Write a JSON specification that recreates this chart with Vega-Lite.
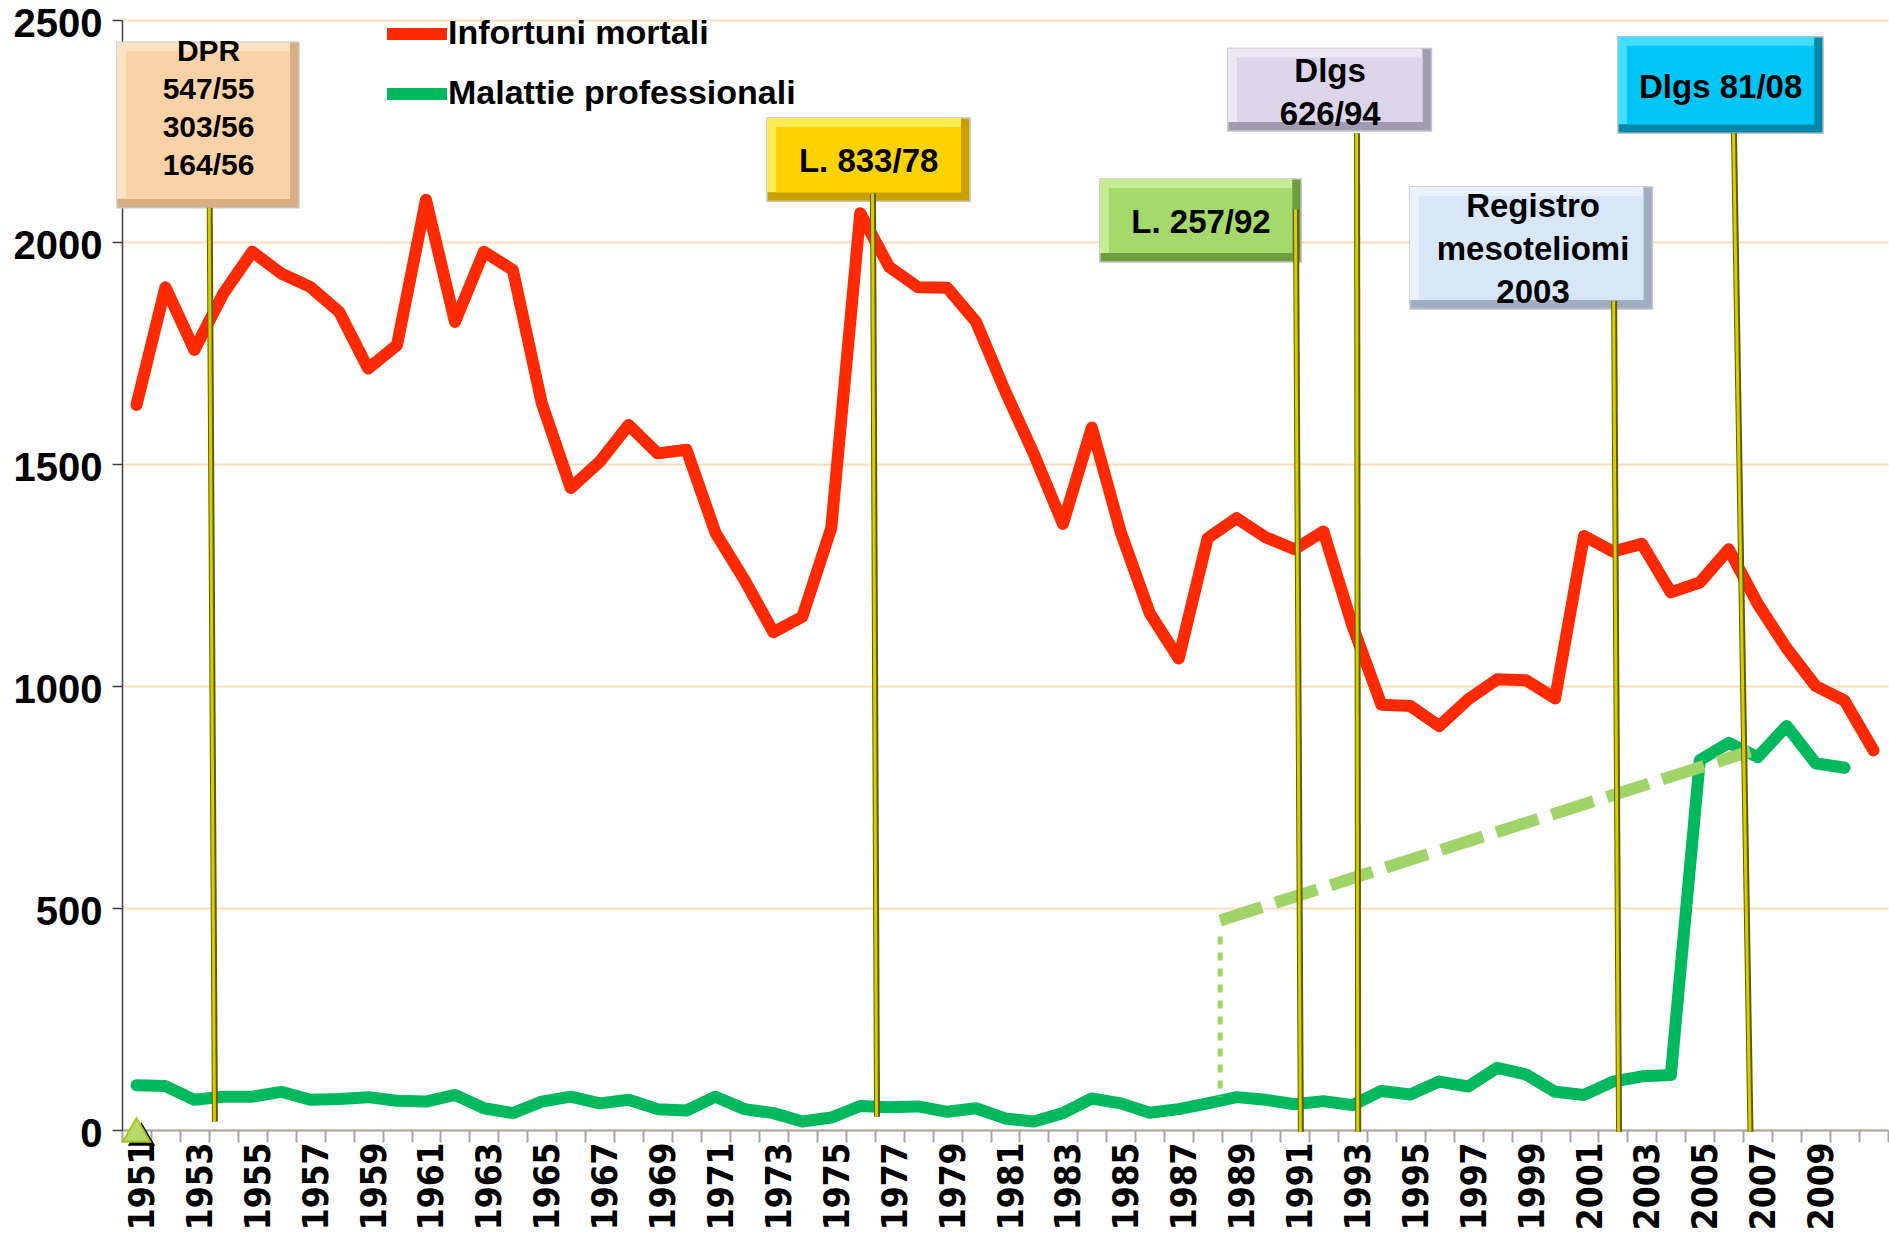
{
  "$schema": "https://vega.github.io/schema/vega-lite/v6.json",
  "width": 1766,
  "height": 1110,
  "autosize": {"type": "none"},
  "padding": {"left": 122, "top": 20, "right": 1, "bottom": 105},
  "background": "white",
  "config": {"view": {"stroke": null}, "font": "Liberation Sans"},
  "datasets": {
    "series": [
      {"year": 1951, "series": "Infortuni mortali", "value": 1633},
      {"year": 1952, "series": "Infortuni mortali", "value": 1898},
      {"year": 1953, "series": "Infortuni mortali", "value": 1757},
      {"year": 1954, "series": "Infortuni mortali", "value": 1884},
      {"year": 1955, "series": "Infortuni mortali", "value": 1978},
      {"year": 1956, "series": "Infortuni mortali", "value": 1929},
      {"year": 1957, "series": "Infortuni mortali", "value": 1899},
      {"year": 1958, "series": "Infortuni mortali", "value": 1843},
      {"year": 1959, "series": "Infortuni mortali", "value": 1715},
      {"year": 1960, "series": "Infortuni mortali", "value": 1768},
      {"year": 1961, "series": "Infortuni mortali", "value": 2095},
      {"year": 1962, "series": "Infortuni mortali", "value": 1820},
      {"year": 1963, "series": "Infortuni mortali", "value": 1978},
      {"year": 1964, "series": "Infortuni mortali", "value": 1937},
      {"year": 1965, "series": "Infortuni mortali", "value": 1637},
      {"year": 1966, "series": "Infortuni mortali", "value": 1446},
      {"year": 1967, "series": "Infortuni mortali", "value": 1505},
      {"year": 1968, "series": "Infortuni mortali", "value": 1588},
      {"year": 1969, "series": "Infortuni mortali", "value": 1524},
      {"year": 1970, "series": "Infortuni mortali", "value": 1532},
      {"year": 1971, "series": "Infortuni mortali", "value": 1345},
      {"year": 1972, "series": "Infortuni mortali", "value": 1239},
      {"year": 1973, "series": "Infortuni mortali", "value": 1121},
      {"year": 1974, "series": "Infortuni mortali", "value": 1156},
      {"year": 1975, "series": "Infortuni mortali", "value": 1356},
      {"year": 1976, "series": "Infortuni mortali", "value": 2065},
      {"year": 1977, "series": "Infortuni mortali", "value": 1944},
      {"year": 1978, "series": "Infortuni mortali", "value": 1898},
      {"year": 1979, "series": "Infortuni mortali", "value": 1897},
      {"year": 1980, "series": "Infortuni mortali", "value": 1820},
      {"year": 1981, "series": "Infortuni mortali", "value": 1665},
      {"year": 1982, "series": "Infortuni mortali", "value": 1522},
      {"year": 1983, "series": "Infortuni mortali", "value": 1365},
      {"year": 1984, "series": "Infortuni mortali", "value": 1582},
      {"year": 1985, "series": "Infortuni mortali", "value": 1346},
      {"year": 1986, "series": "Infortuni mortali", "value": 1164},
      {"year": 1987, "series": "Infortuni mortali", "value": 1062},
      {"year": 1988, "series": "Infortuni mortali", "value": 1333},
      {"year": 1989, "series": "Infortuni mortali", "value": 1378},
      {"year": 1990, "series": "Infortuni mortali", "value": 1335},
      {"year": 1991, "series": "Infortuni mortali", "value": 1308},
      {"year": 1992, "series": "Infortuni mortali", "value": 1348},
      {"year": 1993, "series": "Infortuni mortali", "value": 1136},
      {"year": 1994, "series": "Infortuni mortali", "value": 958},
      {"year": 1995, "series": "Infortuni mortali", "value": 955},
      {"year": 1996, "series": "Infortuni mortali", "value": 910},
      {"year": 1997, "series": "Infortuni mortali", "value": 970},
      {"year": 1998, "series": "Infortuni mortali", "value": 1015},
      {"year": 1999, "series": "Infortuni mortali", "value": 1013},
      {"year": 2000, "series": "Infortuni mortali", "value": 972},
      {"year": 2001, "series": "Infortuni mortali", "value": 1338},
      {"year": 2002, "series": "Infortuni mortali", "value": 1303},
      {"year": 2003, "series": "Infortuni mortali", "value": 1320},
      {"year": 2004, "series": "Infortuni mortali", "value": 1211},
      {"year": 2005, "series": "Infortuni mortali", "value": 1233},
      {"year": 2006, "series": "Infortuni mortali", "value": 1308},
      {"year": 2007, "series": "Infortuni mortali", "value": 1185},
      {"year": 2008, "series": "Infortuni mortali", "value": 1085},
      {"year": 2009, "series": "Infortuni mortali", "value": 1000},
      {"year": 2010, "series": "Infortuni mortali", "value": 967},
      {"year": 2011, "series": "Infortuni mortali", "value": 855},
      {"year": 1951, "series": "Malattie professionali", "value": 101},
      {"year": 1952, "series": "Malattie professionali", "value": 99},
      {"year": 1953, "series": "Malattie professionali", "value": 68},
      {"year": 1954, "series": "Malattie professionali", "value": 75},
      {"year": 1955, "series": "Malattie professionali", "value": 75},
      {"year": 1956, "series": "Malattie professionali", "value": 86},
      {"year": 1957, "series": "Malattie professionali", "value": 68},
      {"year": 1958, "series": "Malattie professionali", "value": 70},
      {"year": 1959, "series": "Malattie professionali", "value": 74},
      {"year": 1960, "series": "Malattie professionali", "value": 66},
      {"year": 1961, "series": "Malattie professionali", "value": 64},
      {"year": 1962, "series": "Malattie professionali", "value": 79},
      {"year": 1963, "series": "Malattie professionali", "value": 49},
      {"year": 1964, "series": "Malattie professionali", "value": 38},
      {"year": 1965, "series": "Malattie professionali", "value": 64},
      {"year": 1966, "series": "Malattie professionali", "value": 75},
      {"year": 1967, "series": "Malattie professionali", "value": 60},
      {"year": 1968, "series": "Malattie professionali", "value": 68},
      {"year": 1969, "series": "Malattie professionali", "value": 47},
      {"year": 1970, "series": "Malattie professionali", "value": 44},
      {"year": 1971, "series": "Malattie professionali", "value": 75},
      {"year": 1972, "series": "Malattie professionali", "value": 47},
      {"year": 1973, "series": "Malattie professionali", "value": 38},
      {"year": 1974, "series": "Malattie professionali", "value": 19},
      {"year": 1975, "series": "Malattie professionali", "value": 28},
      {"year": 1976, "series": "Malattie professionali", "value": 54},
      {"year": 1977, "series": "Malattie professionali", "value": 51},
      {"year": 1978, "series": "Malattie professionali", "value": 53},
      {"year": 1979, "series": "Malattie professionali", "value": 41},
      {"year": 1980, "series": "Malattie professionali", "value": 49},
      {"year": 1981, "series": "Malattie professionali", "value": 26},
      {"year": 1982, "series": "Malattie professionali", "value": 19},
      {"year": 1983, "series": "Malattie professionali", "value": 38},
      {"year": 1984, "series": "Malattie professionali", "value": 71},
      {"year": 1985, "series": "Malattie professionali", "value": 60},
      {"year": 1986, "series": "Malattie professionali", "value": 39},
      {"year": 1987, "series": "Malattie professionali", "value": 47},
      {"year": 1988, "series": "Malattie professionali", "value": 60},
      {"year": 1989, "series": "Malattie professionali", "value": 74},
      {"year": 1990, "series": "Malattie professionali", "value": 68},
      {"year": 1991, "series": "Malattie professionali", "value": 58},
      {"year": 1992, "series": "Malattie professionali", "value": 65},
      {"year": 1993, "series": "Malattie professionali", "value": 56},
      {"year": 1994, "series": "Malattie professionali", "value": 88},
      {"year": 1995, "series": "Malattie professionali", "value": 80},
      {"year": 1996, "series": "Malattie professionali", "value": 109},
      {"year": 1997, "series": "Malattie professionali", "value": 98},
      {"year": 1998, "series": "Malattie professionali", "value": 140},
      {"year": 1999, "series": "Malattie professionali", "value": 125},
      {"year": 2000, "series": "Malattie professionali", "value": 86},
      {"year": 2001, "series": "Malattie professionali", "value": 79},
      {"year": 2002, "series": "Malattie professionali", "value": 109},
      {"year": 2003, "series": "Malattie professionali", "value": 121},
      {"year": 2004, "series": "Malattie professionali", "value": 124},
      {"year": 2005, "series": "Malattie professionali", "value": 833},
      {"year": 2006, "series": "Malattie professionali", "value": 872},
      {"year": 2007, "series": "Malattie professionali", "value": 840},
      {"year": 2008, "series": "Malattie professionali", "value": 910},
      {"year": 2009, "series": "Malattie professionali", "value": 826},
      {"year": 2010, "series": "Malattie professionali", "value": 816}
    ],
    "notes": [
      {"id": "dpr", "text": "DPR\n547/55\n303/56\n164/56", "x1": 1950.33, "x2": 1956.61, "yt": 2450, "yb": 2077, "tx": 1953.49, "ty": 2428, "rx1": 1953.53, "ry1": 2077, "rx2": 1953.71, "ry2": 19},
      {"id": "l833", "text": "L. 833/78", "x1": 1972.78, "x2": 1979.79, "yt": 2279, "yb": 2092, "tx": 1976.29, "ty": 2180, "rx1": 1976.44, "ry1": 2110, "rx2": 1976.58, "ry2": 30},
      {"id": "l257", "text": "L. 257/92", "x1": 1984.28, "x2": 1991.23, "yt": 2142, "yb": 1955, "tx": 1987.77, "ty": 2043, "rx1": 1991.05, "ry1": 2074, "rx2": 1991.22, "ry2": -4},
      {"id": "d626", "text": "Dlgs\n626/94", "x1": 1988.7, "x2": 1995.73, "yt": 2436, "yb": 2250, "tx": 1992.23, "ty": 2383, "rx1": 1993.16, "ry1": 2245, "rx2": 1993.2, "ry2": -4},
      {"id": "reg", "text": "Registro\nmesoteliomi\n2003", "x1": 1994.99, "x2": 2003.36, "yt": 2124, "yb": 1849, "tx": 1999.24, "ty": 2079, "rx1": 2002.04, "ry1": 1867, "rx2": 2002.21, "ry2": -4},
      {"id": "d81", "text": "Dlgs 81/08", "x1": 2002.17, "x2": 2009.26, "yt": 2462, "yb": 2245, "tx": 2005.72, "ty": 2347, "rx1": 2006.18, "ry1": 2245, "rx2": 2006.75, "ry2": -4}
    ],
    "trend": [{"x1": 1988.43, "y1": 472, "x2": 2006.74, "y2": 853}],
    "drop": [{"x1": 1988.43, "y1": 436, "x2": 1988.43, "y2": 74}],
    "origin": [{"year": 1951, "value": 0}]
  },
  "layer": [
    {
      "data": {"name": "series"},
      "mark": {"type": "line", "strokeWidth": 12, "strokeCap": "round", "strokeJoin": "round"},
      "encoding": {
        "x": {
          "field": "year", "type": "quantitative",
          "scale": {"domain": [1950.5, 2011.5], "nice": false, "zero": false},
          "axis": {
            "title": null, "orient": "bottom",
            "values": [1951, 1953, 1955, 1957, 1959, 1961, 1963, 1965, 1967, 1969, 1971, 1973, 1975, 1977, 1979, 1981, 1983, 1985, 1987, 1989, 1991, 1993, 1995, 1997, 1999, 2001, 2003, 2005, 2007, 2009],
            "format": "d", "labelAngle": 270, "labelFont": "DejaVu Sans Condensed", "labelFontWeight": "bold", "labelFontSize": 35,
            "labelColor": "#000000", "labelPadding": 12, "labelOffset": 6, "ticks": false, "grid": false,
            "domain": true, "domainColor": "#A6A6A6", "domainWidth": 2,
            "labelFlush": false, "labelOverlap": false, "labelBound": false
          }
        },
        "y": {
          "field": "value", "type": "quantitative",
          "scale": {"domain": [0, 2500], "nice": false, "zero": false},
          "axis": {
            "title": null, "values": [0, 500, 1000, 1500, 2000, 2500], "format": "d",
            "labelFont": "Liberation Sans", "labelFontWeight": "bold", "labelFontSize": 40, "labelColor": "#000000",
            "labelPadding": 10, "labelOffset": 4, "tickSize": 10, "tickColor": "#404040", "tickWidth": 1.5,
            "domainColor": "#404040", "domainWidth": 1.5,
            "grid": true, "gridColor": "#FFDDB8", "gridWidth": 2
          }
        },
        "color": {
          "field": "series", "type": "nominal",
          "scale": {"domain": ["Infortuni mortali", "Malattie professionali"], "range": ["#FF2A00", "#00B85E"]},
          "legend": {
            "title": null, "orient": "none", "legendX": 259, "legendY": -22, "direction": "vertical",
            "symbolType": "stroke", "symbolStrokeWidth": 12, "symbolSize": 3600,
            "labelFont": "Liberation Sans", "labelFontWeight": "bold", "labelFontSize": 34, "labelColor": "#000000",
            "labelOffset": -5, "rowPadding": 0, "padding": 0, "labelLimit": 600
          }
        }
      }
    },
    {
      "data": {"name": "trend"},
      "mark": {"type": "rule", "color": "#A0D468", "strokeWidth": 12, "strokeDash": [44, 14]},
      "encoding": {
        "x": {
          "field": "x1", "type": "quantitative",
          "scale": {"domain": [1950.5, 2011.5], "nice": false, "zero": false},
          "axis": {
            "title": null, "orient": "bottom",
            "values": [1950.5, 1951.5, 1952.5, 1953.5, 1954.5, 1955.5, 1956.5, 1957.5, 1958.5, 1959.5, 1960.5, 1961.5, 1962.5, 1963.5, 1964.5, 1965.5, 1966.5, 1967.5, 1968.5, 1969.5, 1970.5, 1971.5, 1972.5, 1973.5, 1974.5, 1975.5, 1976.5, 1977.5, 1978.5, 1979.5, 1980.5, 1981.5, 1982.5, 1983.5, 1984.5, 1985.5, 1986.5, 1987.5, 1988.5, 1989.5, 1990.5, 1991.5, 1992.5, 1993.5, 1994.5, 1995.5, 1996.5, 1997.5, 1998.5, 1999.5, 2000.5, 2001.5, 2002.5, 2003.5, 2004.5, 2005.5, 2006.5, 2007.5, 2008.5, 2009.5, 2010.5, 2011.5],
            "labels": false, "ticks": true, "tickSize": 12, "tickColor": "#A6A6A6", "tickWidth": 2,
            "domain": false, "grid": false
          }
        },
        "y": {"field": "y1", "type": "quantitative", "scale": {"domain": [0, 2500], "nice": false, "zero": false}, "axis": null},
        "x2": {"field": "x2"},
        "y2": {"field": "y2"}
      }
    },
    {
      "data": {"name": "drop"},
      "mark": {"type": "rule", "color": "#A0D468", "strokeWidth": 5, "strokeDash": [8, 8]},
      "encoding": {
        "x": {"field": "x1", "type": "quantitative", "scale": {"domain": [1950.5, 2011.5], "nice": false, "zero": false}, "axis": null},
        "y": {"field": "y1", "type": "quantitative", "scale": {"domain": [0, 2500], "nice": false, "zero": false}, "axis": null},
        "x2": {"field": "x2"},
        "y2": {"field": "y2"}
      }
    },
    {
      "data": {"name": "notes"},
      "mark": {"type": "rect", "stroke": "#C4C4C4", "strokeWidth": 1.5},
      "encoding": {
        "x": {"field": "x1", "type": "quantitative", "scale": {"domain": [1950.5, 2011.5], "nice": false, "zero": false}, "axis": null},
        "x2": {"field": "x2"},
        "y": {"field": "yt", "type": "quantitative", "scale": {"domain": [0, 2500], "nice": false, "zero": false}, "axis": null},
        "y2": {"field": "yb"},
        "fill": {"field": "id", "type": "nominal", "legend": null,
          "scale": {"domain": ["dpr", "l833", "l257", "d626", "reg", "d81"], "range": ["#D9AE84", "#C9A000", "#6F9E40", "#A19BB2", "#A0AEC2", "#0088AC"]}}
      }
    },
    {
      "data": {"name": "notes"},
      "mark": {"type": "rect", "x2Offset": -9, "y2Offset": -9},
      "encoding": {
        "x": {"field": "x1", "type": "quantitative", "scale": {"domain": [1950.5, 2011.5], "nice": false, "zero": false}, "axis": null},
        "x2": {"field": "x2"},
        "y": {"field": "yt", "type": "quantitative", "scale": {"domain": [0, 2500], "nice": false, "zero": false}, "axis": null},
        "y2": {"field": "yb"},
        "fill": {"field": "id", "type": "nominal", "legend": null,
          "scale": {"domain": ["dpr", "l833", "l257", "d626", "reg", "d81"], "range": ["#FDE3C6", "#FFEC55", "#C6EC96", "#ECE7F4", "#E9F2FC", "#45DDFF"]}}
      }
    },
    {
      "data": {"name": "notes"},
      "mark": {"type": "rect", "xOffset": 9, "x2Offset": -9, "yOffset": 9, "y2Offset": -9},
      "encoding": {
        "x": {"field": "x1", "type": "quantitative", "scale": {"domain": [1950.5, 2011.5], "nice": false, "zero": false}, "axis": null},
        "x2": {"field": "x2"},
        "y": {"field": "yt", "type": "quantitative", "scale": {"domain": [0, 2500], "nice": false, "zero": false}, "axis": null},
        "y2": {"field": "yb"},
        "fill": {"field": "id", "type": "nominal", "legend": null,
          "scale": {"domain": ["dpr", "l833", "l257", "d626", "reg", "d81"], "range": ["#FAD2A8", "#FFD200", "#A5D96C", "#DCD5EA", "#D8E6F8", "#00C6F5"]}}
      }
    },
    {
      "data": {"name": "notes"},
      "mark": {"type": "rule", "color": "#605C00", "strokeWidth": 6},
      "encoding": {
        "x": {"field": "rx1", "type": "quantitative", "scale": {"domain": [1950.5, 2011.5], "nice": false, "zero": false}, "axis": null},
        "x2": {"field": "rx2"},
        "y": {"field": "ry1", "type": "quantitative", "scale": {"domain": [0, 2500], "nice": false, "zero": false}, "axis": null},
        "y2": {"field": "ry2"}
      }
    },
    {
      "data": {"name": "notes"},
      "mark": {"type": "rule", "color": "#D6CE00", "strokeWidth": 3, "xOffset": -0.5, "x2Offset": -0.5},
      "encoding": {
        "x": {"field": "rx1", "type": "quantitative", "scale": {"domain": [1950.5, 2011.5], "nice": false, "zero": false}, "axis": null},
        "x2": {"field": "rx2"},
        "y": {"field": "ry1", "type": "quantitative", "scale": {"domain": [0, 2500], "nice": false, "zero": false}, "axis": null},
        "y2": {"field": "ry2"}
      }
    },
    {
      "data": {"name": "notes"},
      "transform": [{"filter": "datum.id === 'dpr'"}],
      "mark": {"type": "text", "font": "Liberation Sans", "fontWeight": "bold", "fontSize": 30, "lineHeight": 38, "lineBreak": "\n", "align": "center", "baseline": "middle", "color": "#000000"},
      "encoding": {
        "x": {"field": "tx", "type": "quantitative", "scale": {"domain": [1950.5, 2011.5], "nice": false, "zero": false}, "axis": null},
        "y": {"field": "ty", "type": "quantitative", "scale": {"domain": [0, 2500], "nice": false, "zero": false}, "axis": null},
        "text": {"field": "text", "type": "nominal"}
      }
    },
    {
      "data": {"name": "notes"},
      "transform": [{"filter": "datum.id !== 'dpr'"}],
      "mark": {"type": "text", "font": "Liberation Sans", "fontWeight": "bold", "fontSize": 33, "lineHeight": 43, "lineBreak": "\n", "align": "center", "baseline": "middle", "color": "#000000"},
      "encoding": {
        "x": {"field": "tx", "type": "quantitative", "scale": {"domain": [1950.5, 2011.5], "nice": false, "zero": false}, "axis": null},
        "y": {"field": "ty", "type": "quantitative", "scale": {"domain": [0, 2500], "nice": false, "zero": false}, "axis": null},
        "text": {"field": "text", "type": "nominal"}
      }
    },
    {
      "data": {"name": "origin"},
      "mark": {"type": "point", "shape": "triangle-up", "filled": true, "size": 750, "color": "#000000", "opacity": 1, "xOffset": 5, "yOffset": 4},
      "encoding": {
        "x": {"field": "year", "type": "quantitative", "scale": {"domain": [1950.5, 2011.5], "nice": false, "zero": false}, "axis": null},
        "y": {"field": "value", "type": "quantitative", "scale": {"domain": [0, 2500], "nice": false, "zero": false}, "axis": null}
      }
    },
    {
      "data": {"name": "origin"},
      "mark": {"type": "point", "shape": "triangle-up", "filled": true, "size": 750, "fill": "#B4DA6C", "stroke": "#A4C81C", "strokeWidth": 2, "opacity": 1},
      "encoding": {
        "x": {"field": "year", "type": "quantitative", "scale": {"domain": [1950.5, 2011.5], "nice": false, "zero": false}, "axis": null},
        "y": {"field": "value", "type": "quantitative", "scale": {"domain": [0, 2500], "nice": false, "zero": false}, "axis": null}
      }
    }
  ],
  "resolve": {
    "axis": {"x": "independent", "y": "independent"},
    "scale": {"fill": "independent"}
  }
}
